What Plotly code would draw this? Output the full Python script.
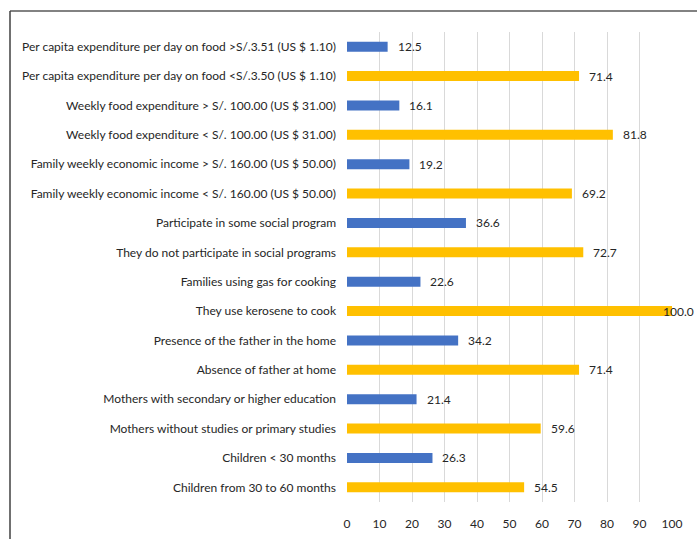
import plotly.graph_objects as go

categories = [
    "Per capita expenditure per day on food >S/.3.51 (US $ 1.10)",
    "Per capita expenditure per day on food <S/.3.50 (US $ 1.10)",
    "Weekly food expenditure > S/. 100.00 (US $ 31.00)",
    "Weekly food expenditure < S/. 100.00 (US $ 31.00)",
    "Family weekly economic income > S/. 160.00 (US $ 50.00)",
    "Family weekly economic income < S/. 160.00 (US $ 50.00)",
    "Participate in some social program",
    "They do not participate in social programs",
    "Families using gas for cooking",
    "They use kerosene to cook",
    "Presence of the father in the home",
    "Absence of father at home",
    "Mothers with secondary or higher education",
    "Mothers without studies or primary studies",
    "Children < 30 months",
    "Children from 30 to 60 months",
]
values = [12.5, 71.4, 16.1, 81.8, 19.2, 69.2, 36.6, 72.7, 22.6, 100.0,
          34.2, 71.4, 21.4, 59.6, 26.3, 54.5]
tick_values = [0, 10, 20, 30, 40, 50, 60, 70, 80, 90, 100]

BLUE = "#4472C4"
GOLD = "#FFC000"
colors = [BLUE if i % 2 == 0 else GOLD for i in range(len(values))]
FONT = "Lato"
FS = 12

fig = go.Figure(go.Bar(
    x=values, y=categories, orientation="h",
    marker=dict(color=colors, line=dict(width=0)),
    width=0.34,
))

# value labels just past each bar end; the full-scale bar's label is pulled back over the bar tip
for v, c in zip(values, categories):
    at_edge = v >= 100
    fig.add_annotation(
        x=v, y=c, text=f"{v:.1f}", showarrow=False,
        xanchor="left", xshift=-11 if at_edge else 8,
        font=dict(family=FONT, size=FS, color="#262626"),
    )

fig.update_layout(
    width=697, height=539,
    margin=dict(l=347, r=25, t=32, b=37),
    paper_bgcolor="white", plot_bgcolor="white",
    showlegend=False,
    font=dict(family=FONT, size=FS, color="#262626"),
    bargap=0.66,
)
fig.update_xaxes(
    range=[0, 100], tickvals=tick_values, automargin=False,
    showgrid=True, gridcolor="#D9D9D9", gridwidth=1,
    zeroline=False, showline=False, ticks="",
    ticklabelstandoff=13,
    tickfont=dict(family=FONT, size=FS, color="#262626"),
)
fig.update_yaxes(
    autorange="reversed", showgrid=False, zeroline=False, automargin=False,
    ticks="", ticklabelstandoff=10,
    tickfont=dict(family=FONT, size=FS, color="#262626"),
)

# frame lines along the top and left edges
fig.add_shape(type="line", xref="paper", yref="paper",
              x0=-337 / 325, x1=1 + 25 / 325, y0=1 + 21 / 470, y1=1 + 21 / 470,
              line=dict(color="#595959", width=1.5))
fig.add_shape(type="line", xref="paper", yref="paper",
              x0=-337 / 325, x1=-337 / 325, y0=1 + 21 / 470, y1=-37 / 470,
              line=dict(color="#404040", width=1.5))

fig.write_html("out.html")
